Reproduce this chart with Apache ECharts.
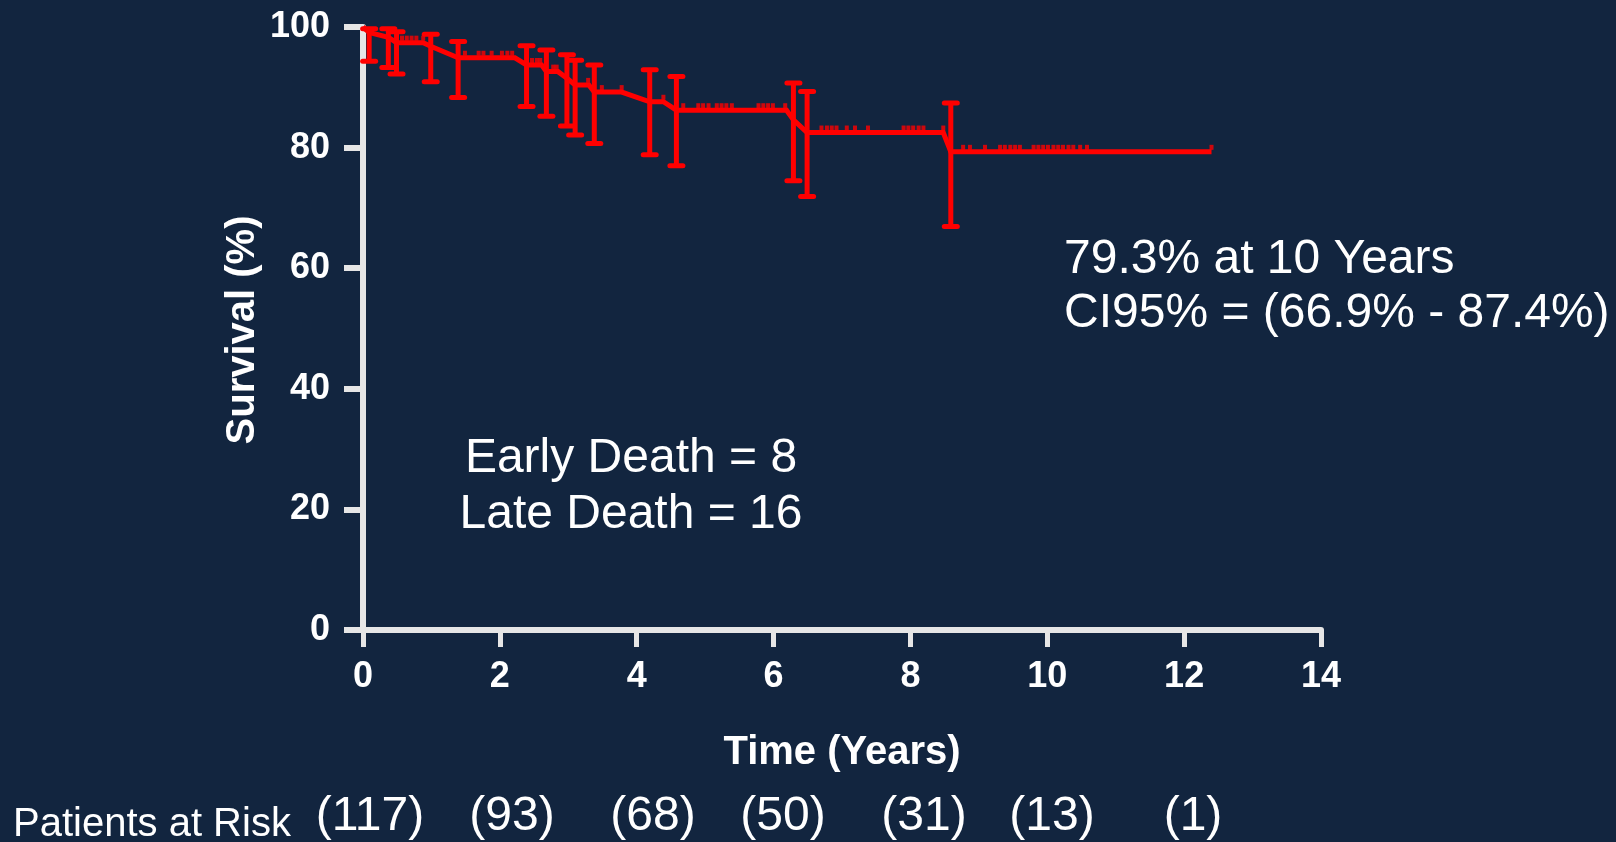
<!DOCTYPE html>
<html>
<head>
<meta charset="utf-8">
<script src="https://cdn.jsdelivr.net/npm/echarts@6/dist/echarts.min.js"></script>
<style>
  html, body { margin: 0; padding: 0; background: #12253f; }
  #chart { width: 1616px; height: 842px; }
</style>
</head>
<body>
<div id="chart"></div>
<script>
// ---- Data ----
const xTicks = [0, 2, 4, 6, 8, 10, 12, 14];
const yTicks = [0, 20, 40, 60, 80, 100];

// Kaplan-Meier curve (points connected)
const curveT = [0, 0.09, 0.37, 0.49, 0.88, 0.99, 1.39, 2.22, 2.39, 2.61, 2.68, 2.85, 2.98, 3.10, 3.30, 3.38, 3.78, 4.19, 4.39, 4.58, 6.19, 6.29, 6.49, 8.48, 8.59, 12.40];
const curveS = [100, 99.1, 98.3, 97.4, 97.4, 96.8, 94.9, 94.9, 93.7, 93.7, 92.6, 92.6, 91.5, 90.4, 90.4, 89.2, 89.2, 87.6, 87.6, 86.2, 86.2, 84.6, 82.5, 82.5, 79.3, 79.3];

// Censored observations
const censorT = [0.57, 0.64, 0.71, 0.78, 0.88,
  1.49, 1.69, 1.76, 1.88, 2.03, 2.11, 2.18,
  2.47, 2.54, 2.59,
  2.78, 2.83,
  3.29,
  3.49, 3.78,
  4.39,
  4.68, 4.90, 4.97, 5.05, 5.17, 5.24, 5.31, 5.39, 5.78, 5.85, 5.92, 5.99, 6.17,
  6.70, 6.78, 6.85, 6.92, 7.07, 7.19, 7.38, 7.90, 7.97, 8.04, 8.12, 8.19, 8.48,
  8.77, 8.87, 9.09, 9.31, 9.38, 9.46, 9.53, 9.60, 9.80, 9.87, 9.94, 10.01, 10.09, 10.16, 10.23, 10.31, 10.38, 10.48, 10.58, 12.40];
const censorS = [97.4, 97.4, 97.4, 97.4, 97.4,
  94.9, 94.9, 94.9, 94.9, 94.9, 94.9, 94.9,
  93.7, 93.7, 93.7,
  92.6, 92.6,
  90.4,
  89.2, 89.2,
  87.6,
  86.2, 86.2, 86.2, 86.2, 86.2, 86.2, 86.2, 86.2, 86.2, 86.2, 86.2, 86.2, 86.2,
  82.5, 82.5, 82.5, 82.5, 82.5, 82.5, 82.5, 82.5, 82.5, 82.5, 82.5, 82.5, 82.5,
  79.3, 79.3, 79.3, 79.3, 79.3, 79.3, 79.3, 79.3, 79.3, 79.3, 79.3, 79.3, 79.3, 79.3, 79.3, 79.3, 79.3, 79.3, 79.3, 79.3];

// 95% confidence interval bars at event times
const errT  = [0.09, 0.37, 0.49, 0.99, 1.39, 2.39, 2.68, 2.98, 3.10, 3.38, 4.19, 4.58, 6.29, 6.49, 8.59];
const errLo = [94.3, 93.3, 92.2, 90.9, 88.3, 86.8, 85.2, 83.6, 82.1, 80.7, 78.8, 77.0, 74.5, 71.9, 66.9];
const errHi = [99.7, 99.7, 99.2, 98.8, 97.6, 96.9, 96.2, 95.4, 94.5, 93.7, 92.9, 91.8, 90.7, 89.3, 87.4];

const riskLabel = 'Patients at Risk';
const riskCounts = ['(117)', '(93)', '(68)', '(50)', '(31)', '(13)', '(1)'];

const xTitle = 'Time (Years)';
const yTitle = 'Survival (%)';
const noteLines = ['79.3% at 10 Years', 'CI95% = (66.9% - 87.4%)'];
const deathLines = ['Early Death = 8', 'Late Death = 16'];

// ---- Styling / layout ----
const FONT = '"Liberation Sans", Arial, Helvetica, sans-serif';
const AXIS_COLOR = '#e6e6e6';
const RED = '#ff0000';
const riskX = [370, 512, 653, 783, 924, 1052, 1193];

const chart = echarts.init(document.getElementById('chart'), null, { renderer: 'canvas' });

function txt(text, x, y, size, weight, align, rotation) {
  return {
    type: 'text', x: x, y: y, rotation: rotation || 0, z: 10,
    style: {
      text: text, fill: '#ffffff',
      font: (weight || 'normal') + ' ' + size + 'px ' + FONT,
      align: align || 'center', verticalAlign: 'middle',
      textAlign: align || 'center', textVerticalAlign: 'middle'
    }
  };
}

const graphics = [
  txt(xTitle, 842, 753, 40, 'bold', 'center'),
  txt(yTitle, 243, 330, 40, 'bold', 'center', Math.PI / 2),
  txt(noteLines[0], 1064, 260, 48, 'normal', 'left'),
  txt(noteLines[1], 1064, 314, 48, 'normal', 'left'),
  txt(deathLines[0], 631, 459, 48, 'normal', 'center'),
  txt(deathLines[1], 631, 515, 48, 'normal', 'center'),
  txt(riskLabel, 13, 825, 40, 'normal', 'left')
];
riskCounts.forEach((c, i) => graphics.push(txt(c, riskX[i], 817, 48, 'normal', 'center')));

const option = {
  backgroundColor: '#12253f',
  animation: false,
  grid: { left: 363, top: 27, width: 958, height: 603, outerBoundsMode: 'none', containLabel: false },
  xAxis: {
    type: 'value', min: xTicks[0], max: xTicks[xTicks.length - 1], interval: 2,
    axisLine: { show: true, onZero: false, lineStyle: { color: AXIS_COLOR, width: 6 } },
    axisTick: { show: true, length: 17, lineStyle: { color: AXIS_COLOR, width: 5 } },
    axisLabel: { color: '#ffffff', fontSize: 36, fontWeight: 'bold', fontFamily: FONT, margin: 29 },
    splitLine: { show: false }
  },
  yAxis: {
    type: 'value', min: yTicks[0], max: yTicks[yTicks.length - 1], interval: 20,
    axisLine: { show: true, onZero: false, lineStyle: { color: AXIS_COLOR, width: 6 } },
    axisTick: { show: true, length: 19, lineStyle: { color: AXIS_COLOR, width: 6 } },
    axisLabel: { color: '#ffffff', fontSize: 36, fontWeight: 'bold', fontFamily: FONT, margin: 33 },
    splitLine: { show: false }
  },
  graphic: graphics,
  series: [
    {
      type: 'line',
      data: curveT.map((t, i) => [t, curveS[i]]),
      showSymbol: false, symbol: 'none',
      lineStyle: { color: RED, width: 5, join: 'miter' },
      z: 3
    },
    {
      type: 'scatter',
      data: censorT.map((t, i) => [t, censorS[i]]),
      symbol: 'rect', symbolSize: [4, 5], symbolOffset: [0, -4.5],
      itemStyle: { color: RED },
      z: 4
    },
    {
      type: 'custom',
      data: errT.map((t, i) => [t, errLo[i], errHi[i]]),
      encode: { x: 0, y: [1, 2] },
      z: 5,
      renderItem: function (params, api) {
        const t = api.value(0);
        const pLo = api.coord([t, api.value(1)]);
        const pHi = api.coord([t, api.value(2)]);
        const hw = 6.5;
        const st = { stroke: RED, lineWidth: 5, lineCap: 'round' };
        return {
          type: 'group',
          children: [
            { type: 'line', shape: { x1: pLo[0], y1: pLo[1], x2: pHi[0], y2: pHi[1] }, style: { stroke: RED, lineWidth: 5 } },
            { type: 'line', shape: { x1: pLo[0] - hw, y1: pLo[1], x2: pLo[0] + hw, y2: pLo[1] }, style: st },
            { type: 'line', shape: { x1: pHi[0] - hw, y1: pHi[1], x2: pHi[0] + hw, y2: pHi[1] }, style: st }
          ]
        };
      }
    }
  ]
};
chart.setOption(option);
</script>
</body>
</html>
